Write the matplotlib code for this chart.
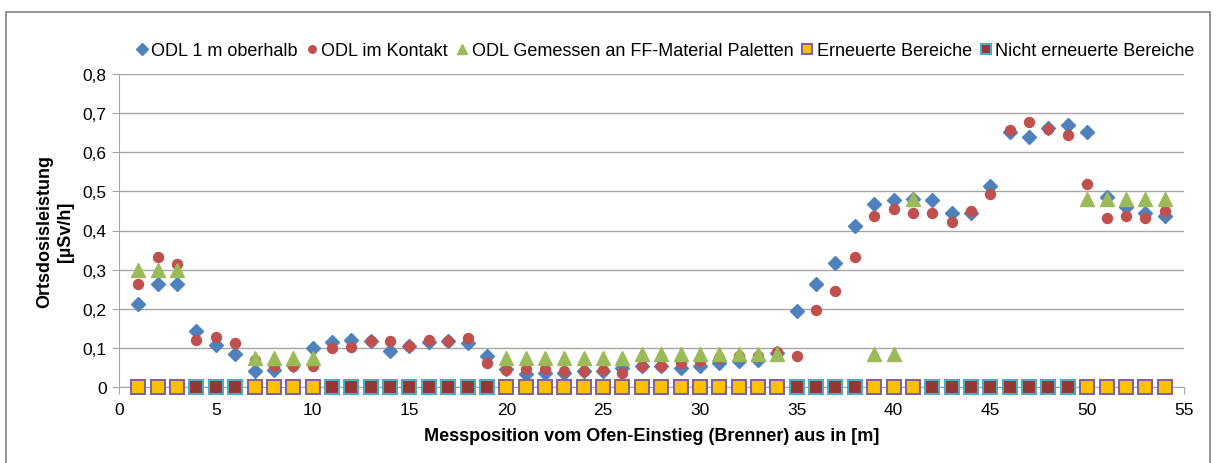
import matplotlib.pyplot as plt
from matplotlib.patches import Rectangle
from matplotlib.ticker import FuncFormatter

plt.rcParams['font.family'] = ['Liberation Sans', 'DejaVu Sans']

# Messpositionen [m]
pos = list(range(1, 55))

odl_oberhalb = [0.213, 0.264, 0.264, 0.144, 0.107, 0.085, 0.042, 0.044, 0.055, 0.100,
                0.115, 0.119, 0.117, 0.091, 0.104, 0.114, 0.117, 0.113, 0.078, 0.046,
                0.032, 0.037, 0.036, 0.040, 0.040, 0.049, 0.053, 0.053, 0.049, 0.053,
                0.062, 0.066, 0.070, 0.087, 0.194, 0.262, 0.318, 0.412, 0.467, 0.478,
                0.480, 0.478, 0.446, 0.446, 0.513, 0.651, 0.638, 0.662, 0.670, 0.653,
                0.485, 0.459, 0.446, 0.437]

odl_kontakt = [0.264, 0.333, 0.315, 0.119, 0.128, 0.112, 0.070, 0.053, 0.053, 0.053,
               0.100, 0.102, 0.117, 0.117, 0.104, 0.120, 0.117, 0.124, 0.062, 0.044,
               0.046, 0.046, 0.040, 0.042, 0.044, 0.036, 0.053, 0.053, 0.062, 0.066,
               0.074, 0.078, 0.078, 0.089, 0.080, 0.196, 0.245, 0.331, 0.436, 0.455,
               0.444, 0.444, 0.422, 0.450, 0.493, 0.657, 0.677, 0.660, 0.645, 0.519,
               0.433, 0.436, 0.431, 0.450]

# FF-Material Paletten
ff_pos = [1, 2, 3,
          7, 8, 9, 10,
          20, 21, 22, 23, 24, 25, 26,
          27, 28, 29, 30, 31, 32, 33, 34,
          39, 40,
          41,
          50, 51, 52, 53, 54]
ff_val = [0.30, 0.30, 0.30,
          0.075, 0.075, 0.075, 0.075,
          0.075, 0.075, 0.075, 0.075, 0.075, 0.075, 0.075,
          0.085, 0.085, 0.085, 0.085, 0.085, 0.085, 0.085, 0.085,
          0.085, 0.085,
          0.48,
          0.48, 0.48, 0.48, 0.48, 0.48]

erneuert_pos = [1, 2, 3, 7, 8, 9, 10] + list(range(20, 35)) + [39, 40, 41] + list(range(50, 55))
nicht_erneuert_pos = [4, 5, 6] + list(range(11, 20)) + [35, 36, 37, 38] + list(range(42, 50))

fig = plt.figure(figsize=(12.19, 4.64), dpi=100)
ax = fig.add_axes([119 / 1219, 1 - 388 / 464, (1184 - 119) / 1219, (388 - 75) / 464])

ax.plot(pos, odl_oberhalb, ls='none', marker='D', ms=7.5, color='#4F81BD',
        label='ODL 1 m oberhalb', clip_on=False, zorder=3)
ax.plot(pos, odl_kontakt, ls='none', marker='o', ms=7.2, color='#C0504D',
        label='ODL im Kontakt', clip_on=False, zorder=3)
ax.plot(ff_pos, ff_val, ls='none', marker='^', ms=10.5, color='#9BBB59',
        label='ODL Gemessen an FF-Material Paletten', clip_on=False, zorder=3)
ax.plot(erneuert_pos, [0] * len(erneuert_pos), ls='none', marker='s', ms=9.5,
        mfc='#FFC000', mec='#8064A2', mew=1.5, label='Erneuerte Bereiche',
        clip_on=False, zorder=4)
ax.plot(nicht_erneuert_pos, [0] * len(nicht_erneuert_pos), ls='none', marker='s', ms=9.5,
        mfc='#953735', mec='#4BACC6', mew=1.5, label='Nicht erneuerte Bereiche',
        clip_on=False, zorder=4)

ax.set_xlim(0, 55)
ax.set_ylim(0, 0.8)
ax.set_xticks(range(0, 56, 5))
ax.set_yticks([i / 10 for i in range(9)])
ax.yaxis.set_major_formatter(FuncFormatter(lambda v, p: '0' if v == 0 else f'{v:.1f}'.replace('.', ',')))
ax.grid(axis='y', color='#a6a6a6', lw=1)
ax.set_axisbelow(True)
for s in ['top', 'right']:
    ax.spines[s].set_visible(False)
ax.spines['left'].set_color('#a6a6a6')
ax.spines['bottom'].set_color('#a6a6a6')
ax.tick_params(axis='both', colors='#a6a6a6', labelcolor='black', labelsize=12.5, length=5, direction='out')
ax.tick_params(axis='x', pad=6)
ax.tick_params(axis='y', pad=4)

ax.set_xlabel('Messposition vom Ofen-Einstieg (Brenner) aus in [m]', fontsize=13, fontweight='bold', labelpad=7)
ax.set_ylabel('Ortsdosisleistung\n[µSv/h]', fontsize=13, fontweight='bold', labelpad=6, linespacing=1.3)

leg = fig.legend(loc='center left', bbox_to_anchor=(137 / 1219, 1 - 52 / 464), ncol=5, frameon=False,
                 fontsize=13, handlelength=0.55, handletextpad=0.25, columnspacing=0.5,
                 markerscale=0.75, borderaxespad=0, borderpad=0)

fig.patches.append(Rectangle((6 / 1219, -0.05), (1210 - 6) / 1219, 1.05 - 13 / 464,
                             transform=fig.transFigure, fill=False, edgecolor='#8c8c8c', lw=1.3))

fig.savefig('out.png', dpi=100)
